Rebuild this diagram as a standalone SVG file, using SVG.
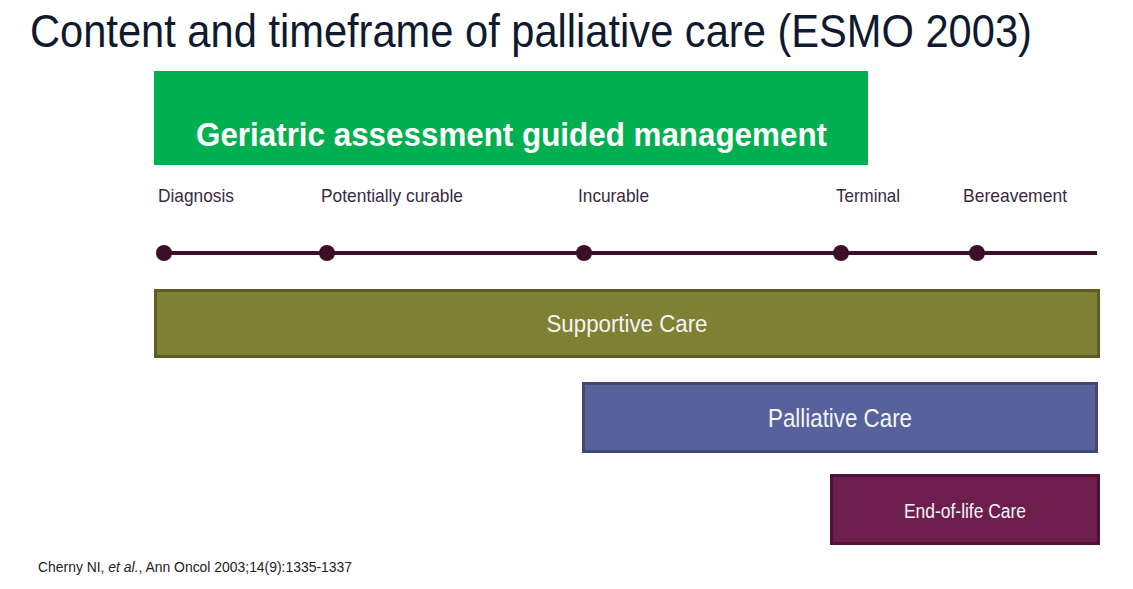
<svg xmlns="http://www.w3.org/2000/svg" width="1133" height="589" viewBox="0 0 1133 589">
<defs>
<style>
text{font-family:"Liberation Sans Narrow","Liberation Sans",Arial,sans-serif}
.stage{font-size:19px;fill:#3a2a44}
.bar{stroke-width:3}
.lbl{fill:#f4f4f4;text-anchor:middle}
.dot{fill:#3b0f2a}
</style>
</defs>
<rect width="1133" height="589" fill="#ffffff"/>
<text transform="translate(30 47) scale(0.86 1)" x="0" y="0" font-size="46" fill="#0f1a2e" textLength="1165" lengthAdjust="spacingAndGlyphs">Content and timeframe of palliative care (ESMO 2003)</text>
<g id="geriatric">
<rect x="154" y="71" width="714" height="94" fill="#00b050"/>
<text x="196" y="146" font-size="33" font-weight="bold" fill="#ffffff" textLength="631" lengthAdjust="spacingAndGlyphs">Geriatric assessment guided management</text>
</g>
<g id="connectors">
<line x1="164" y1="253" x2="1097" y2="253" stroke="#3b0f2a" stroke-width="4"/>
</g>
<g id="diagnosis"><circle class="dot" cx="164" cy="253" r="8"/><text class="stage" x="158" y="202" textLength="76" lengthAdjust="spacingAndGlyphs">Diagnosis</text></g>
<g id="curable"><circle class="dot" cx="327" cy="253" r="8"/><text class="stage" x="321" y="202" textLength="142" lengthAdjust="spacingAndGlyphs">Potentially curable</text></g>
<g id="incurable"><circle class="dot" cx="584" cy="253" r="8"/><text class="stage" x="578" y="202" textLength="71" lengthAdjust="spacingAndGlyphs">Incurable</text></g>
<g id="terminal"><circle class="dot" cx="841" cy="253" r="8"/><text class="stage" x="836" y="202" textLength="64" lengthAdjust="spacingAndGlyphs">Terminal</text></g>
<g id="bereavement"><circle class="dot" cx="977" cy="253" r="8"/><text class="stage" x="963" y="202" textLength="104" lengthAdjust="spacingAndGlyphs">Bereavement</text></g>
<g id="supportive">
<rect class="bar" x="155.5" y="290.5" width="943" height="66" fill="#7f8033" stroke="#5c5d22"/>
<text class="lbl" x="627" y="332" font-size="23" textLength="161" lengthAdjust="spacingAndGlyphs">Supportive Care</text>
</g>
<g id="palliative">
<rect class="bar" x="583.5" y="383.5" width="513" height="68" fill="#57629c" stroke="#3f4877"/>
<text class="lbl" x="840" y="427" font-size="25" textLength="144" lengthAdjust="spacingAndGlyphs">Palliative Care</text>
</g>
<g id="endoflife">
<rect class="bar" x="831.5" y="475.5" width="267" height="68" fill="#6d1e4c" stroke="#4e1235"/>
<text class="lbl" x="965" y="518" font-size="20" textLength="122" lengthAdjust="spacingAndGlyphs">End-of-life Care</text>
</g>
<text x="38" y="572" font-size="14" fill="#222222" textLength="314" lengthAdjust="spacingAndGlyphs">Cherny NI,  <tspan font-style="italic">et al.</tspan>, Ann Oncol 2003;14(9):1335-1337</text>
</svg>
